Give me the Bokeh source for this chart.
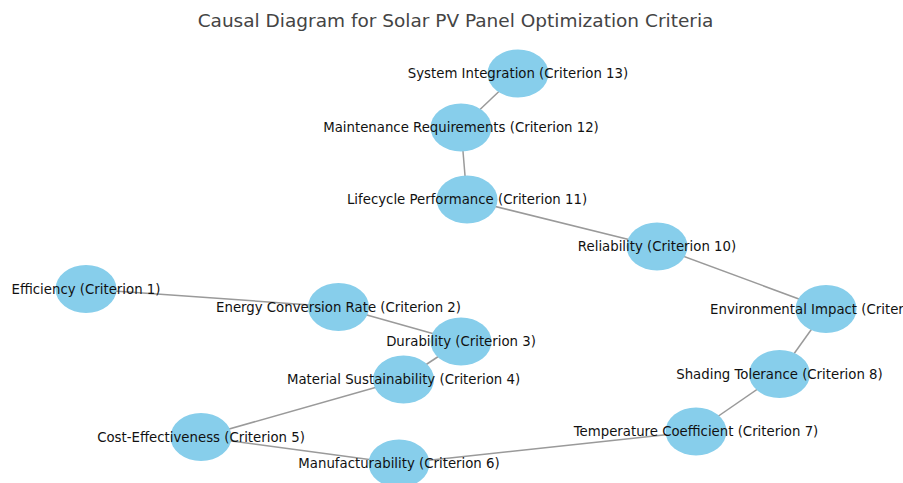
from bokeh.plotting import figure
from bokeh.models import Range1d, ColumnDataSource, Label
from bokeh.core.properties import value
from bokeh.embed import file_html
from bokeh.resources import INLINE

# Node labels
labels = [
    "Efficiency (Criterion 1)",
    "Energy Conversion Rate (Criterion 2)",
    "Durability (Criterion 3)",
    "Material Sustainability (Criterion 4)",
    "Cost-Effectiveness (Criterion 5)",
    "Manufacturability (Criterion 6)",
    "Temperature Coefficient (Criterion 7)",
    "Shading Tolerance (Criterion 8)",
    "Environmental Impact (Criterion 9)",
    "Reliability (Criterion 10)",
    "Lifecycle Performance (Criterion 11)",
    "Maintenance Requirements (Criterion 12)",
    "System Integration (Criterion 13)",
]
# Layout positions (x right, y up)
pos_x = [85.5, 338, 460.5, 403, 200.5, 398.5, 695.5, 779, 825.5, 656.5, 466.5, 460.5, 517.5]
pos_y = [194.5, 176.5, 142, 104, 46.5, 20, 52, 109.5, 174.5, 237, 284, 356, 410]
# Edges (chain of criteria)
edge_src = [0, 1, 2, 3, 4, 5, 6, 7, 8, 9, 10, 11]
edge_dst = [1, 2, 3, 4, 5, 6, 7, 8, 9, 10, 11, 12]

title = "Causal Diagram for Solar PV Panel Optimization Criteria"

W, H = 903, 483
p = figure(width=W, height=H, output_backend="svg", toolbar_location=None,
           x_range=Range1d(0, W), y_range=Range1d(483 - H, 483),
           min_border=0, outline_line_color=None, background_fill_color="white")
p.xaxis.visible = False
p.yaxis.visible = False
p.grid.visible = False

xs = [[pos_x[a], pos_x[b]] for a, b in zip(edge_src, edge_dst)]
ys = [[pos_y[a], pos_y[b]] for a, b in zip(edge_src, edge_dst)]
p.multi_line(xs=xs, ys=ys, line_color="#9a9a9a", line_width=1.5)

src = ColumnDataSource(dict(x=pos_x, y=pos_y, label=labels))
p.ellipse(x="x", y="y", width=61, height=48, source=src,
          fill_color="#87CEEB", line_color=None)
p.text(x="x", y="y", text="label", source=src, text_align="center",
       text_baseline="middle", text_font=value("DejaVu Sans"),
       text_font_size="13.3px", text_color="#111111")

p.add_layout(Label(x=455, y=483 - 20, x_units="screen", y_units="screen",
                   text=title, text_align="center", text_baseline="middle",
                   text_font="DejaVu Sans", text_font_size="18.5px",
                   text_color="#444444"))

open("out.html", "w").write(file_html(p, INLINE))
